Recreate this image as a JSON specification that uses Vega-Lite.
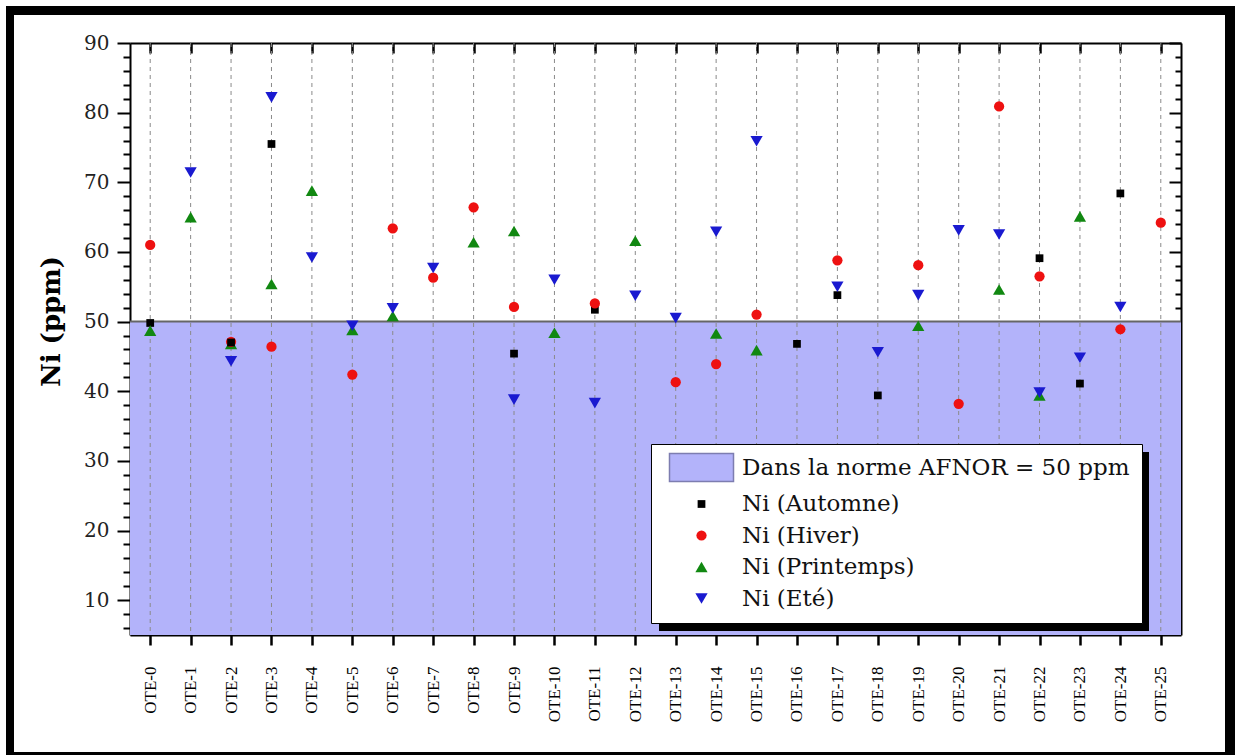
{
  "$schema": "https://vega.github.io/schema/vega-lite/v6.json",
  "width": 1051,
  "height": 592,
  "autosize": {"type": "none"},
  "padding": {"left": 130, "top": 43, "right": 56, "bottom": 120},
  "background": "white",
  "datasets": {
    "ni": [
      {"site": "OTE-0", "season": "Ni (Automne)", "ni": 49.8},
      {"site": "OTE-0", "season": "Ni (Hiver)", "ni": 61.0},
      {"site": "OTE-0", "season": "Ni (Printemps)", "ni": 48.7},
      {"site": "OTE-1", "season": "Ni (Printemps)", "ni": 65.0},
      {"site": "OTE-1", "season": "Ni (Eté)", "ni": 71.4},
      {"site": "OTE-2", "season": "Ni (Printemps)", "ni": 46.8},
      {"site": "OTE-2", "season": "Ni (Hiver)", "ni": 47.1},
      {"site": "OTE-2", "season": "Ni (Automne)", "ni": 47.0},
      {"site": "OTE-2", "season": "Ni (Eté)", "ni": 44.3},
      {"site": "OTE-3", "season": "Ni (Automne)", "ni": 75.5},
      {"site": "OTE-3", "season": "Ni (Hiver)", "ni": 46.4},
      {"site": "OTE-3", "season": "Ni (Printemps)", "ni": 55.4},
      {"site": "OTE-3", "season": "Ni (Eté)", "ni": 82.2},
      {"site": "OTE-4", "season": "Ni (Printemps)", "ni": 68.8},
      {"site": "OTE-4", "season": "Ni (Eté)", "ni": 59.2},
      {"site": "OTE-5", "season": "Ni (Hiver)", "ni": 42.4},
      {"site": "OTE-5", "season": "Ni (Printemps)", "ni": 48.8},
      {"site": "OTE-5", "season": "Ni (Eté)", "ni": 49.4},
      {"site": "OTE-6", "season": "Ni (Hiver)", "ni": 63.4},
      {"site": "OTE-6", "season": "Ni (Printemps)", "ni": 50.8},
      {"site": "OTE-6", "season": "Ni (Eté)", "ni": 51.9},
      {"site": "OTE-7", "season": "Ni (Hiver)", "ni": 56.3},
      {"site": "OTE-7", "season": "Ni (Eté)", "ni": 57.7},
      {"site": "OTE-8", "season": "Ni (Hiver)", "ni": 66.4},
      {"site": "OTE-8", "season": "Ni (Printemps)", "ni": 61.4},
      {"site": "OTE-9", "season": "Ni (Automne)", "ni": 45.4},
      {"site": "OTE-9", "season": "Ni (Hiver)", "ni": 52.1},
      {"site": "OTE-9", "season": "Ni (Printemps)", "ni": 63.0},
      {"site": "OTE-9", "season": "Ni (Eté)", "ni": 38.8},
      {"site": "OTE-10", "season": "Ni (Printemps)", "ni": 48.4},
      {"site": "OTE-10", "season": "Ni (Eté)", "ni": 56.0},
      {"site": "OTE-11", "season": "Ni (Automne)", "ni": 51.7},
      {"site": "OTE-11", "season": "Ni (Hiver)", "ni": 52.6},
      {"site": "OTE-11", "season": "Ni (Eté)", "ni": 38.3},
      {"site": "OTE-12", "season": "Ni (Printemps)", "ni": 61.6},
      {"site": "OTE-12", "season": "Ni (Eté)", "ni": 53.7},
      {"site": "OTE-13", "season": "Ni (Hiver)", "ni": 41.3},
      {"site": "OTE-13", "season": "Ni (Eté)", "ni": 50.5},
      {"site": "OTE-14", "season": "Ni (Hiver)", "ni": 43.9},
      {"site": "OTE-14", "season": "Ni (Printemps)", "ni": 48.3},
      {"site": "OTE-14", "season": "Ni (Eté)", "ni": 62.9},
      {"site": "OTE-15", "season": "Ni (Hiver)", "ni": 51.0},
      {"site": "OTE-15", "season": "Ni (Printemps)", "ni": 45.9},
      {"site": "OTE-15", "season": "Ni (Eté)", "ni": 75.9},
      {"site": "OTE-16", "season": "Ni (Automne)", "ni": 46.8},
      {"site": "OTE-17", "season": "Ni (Automne)", "ni": 53.8},
      {"site": "OTE-17", "season": "Ni (Hiver)", "ni": 58.8},
      {"site": "OTE-17", "season": "Ni (Eté)", "ni": 55.0},
      {"site": "OTE-18", "season": "Ni (Automne)", "ni": 39.4},
      {"site": "OTE-18", "season": "Ni (Eté)", "ni": 45.6},
      {"site": "OTE-19", "season": "Ni (Hiver)", "ni": 58.1},
      {"site": "OTE-19", "season": "Ni (Printemps)", "ni": 49.4},
      {"site": "OTE-19", "season": "Ni (Eté)", "ni": 53.8},
      {"site": "OTE-20", "season": "Ni (Hiver)", "ni": 38.2},
      {"site": "OTE-20", "season": "Ni (Eté)", "ni": 63.1},
      {"site": "OTE-21", "season": "Ni (Hiver)", "ni": 80.9},
      {"site": "OTE-21", "season": "Ni (Printemps)", "ni": 54.6},
      {"site": "OTE-21", "season": "Ni (Eté)", "ni": 62.5},
      {"site": "OTE-22", "season": "Ni (Automne)", "ni": 59.1},
      {"site": "OTE-22", "season": "Ni (Hiver)", "ni": 56.5},
      {"site": "OTE-22", "season": "Ni (Printemps)", "ni": 39.4},
      {"site": "OTE-22", "season": "Ni (Eté)", "ni": 39.8},
      {"site": "OTE-23", "season": "Ni (Automne)", "ni": 41.1},
      {"site": "OTE-23", "season": "Ni (Printemps)", "ni": 65.1},
      {"site": "OTE-23", "season": "Ni (Eté)", "ni": 44.8},
      {"site": "OTE-24", "season": "Ni (Automne)", "ni": 68.4},
      {"site": "OTE-24", "season": "Ni (Hiver)", "ni": 48.9},
      {"site": "OTE-24", "season": "Ni (Eté)", "ni": 52.1},
      {"site": "OTE-25", "season": "Ni (Hiver)", "ni": 64.2}
    ],
    "norm": [
      {"season": "Dans la norme AFNOR = 50 ppm", "lo": 5, "hi": 50}
    ]
  },
  "layer": [
    {
      "data": {"name": "norm"},
      "mark": {"type": "rect", "opacity": 1},
      "encoding": {
        "y": {
          "field": "lo", "type": "quantitative",
          "scale": {"domain": [5, 90], "nice": false, "zero": false},
          "axis": {
            "orient": "left",
            "values": [6, 8, 10, 12, 14, 16, 18, 20, 22, 24, 26, 28, 30, 32, 34, 36, 38, 40, 42, 44, 46, 48, 50, 52, 54, 56, 58, 60, 62, 64, 66, 68, 70, 72, 74, 76, 78, 80, 82, 84, 86, 88, 90],
            "labelExpr": "datum.value % 10 === 0 ? datum.label : ''",
            "labelOverlap": false,
            "labelFont": "DejaVu Serif", "labelFontSize": 20, "labelColor": "#222222",
            "labelPadding": 8,
            "tickSize": {"condition": {"test": "datum.value % 10 === 0", "value": 13}, "value": 7},
            "tickWidth": 2, "tickColor": "#000000",
            "domainColor": "#000000", "domainWidth": 2,
            "grid": false,
            "title": "Ni (ppm)",
            "titleFont": "DejaVu Serif", "titleFontSize": 26, "titleFontWeight": "bold", "titleColor": "#000000",
            "titlePadding": 19, "titleY": 278
          }
        },
        "y2": {"field": "hi"},
        "color": {
          "field": "season", "type": "nominal",
          "scale": {
            "domain": ["Dans la norme AFNOR = 50 ppm", "Ni (Automne)", "Ni (Hiver)", "Ni (Printemps)", "Ni (Eté)"],
            "range": ["#b3b3fa", "#000000", "#ee1111", "#118811", "#1a1ad0"]
          }
        }
      }
    },
    {
      "data": {"name": "ni"},
      "transform": [{"aggregate": [{"op": "count", "as": "n"}], "groupby": ["site"]}],
      "mark": {"type": "rule", "strokeDash": [4, 4], "color": "#8a8a8a", "strokeWidth": 1},
      "encoding": {
        "x": {
          "field": "site", "type": "nominal",
          "scale": {"type": "point", "padding": 0.5, "domain": ["OTE-0", "OTE-1", "OTE-2", "OTE-3", "OTE-4", "OTE-5", "OTE-6", "OTE-7", "OTE-8", "OTE-9", "OTE-10", "OTE-11", "OTE-12", "OTE-13", "OTE-14", "OTE-15", "OTE-16", "OTE-17", "OTE-18", "OTE-19", "OTE-20", "OTE-21", "OTE-22", "OTE-23", "OTE-24", "OTE-25"]},
          "axis": {
            "orient": "top", "labels": false, "title": null, "grid": false,
            "tickSize": -10, "tickWidth": 2.5, "tickColor": "#000000",
            "domainColor": "#000000", "domainWidth": 2
          }
        }
      }
    },
    {
      "data": {"name": "norm"},
      "mark": {"type": "rule", "color": "#666666", "strokeWidth": 2},
      "encoding": {
        "y": {"field": "hi", "type": "quantitative", "axis": null}
      }
    },
    {
      "data": {"name": "ni"},
      "mark": {"type": "point", "filled": true, "opacity": 1},
      "encoding": {
        "x": {
          "field": "site", "type": "nominal",
          "axis": {
            "orient": "bottom", "title": null, "grid": false,
            "labelAngle": 270, "labelFont": "Liberation Serif", "labelFontSize": 17, "labelColor": "#000000",
            "labelPadding": 21,
            "tickSize": 10, "tickWidth": 2.5, "tickColor": "#000000",
            "domainColor": "#000000", "domainWidth": 2
          }
        },
        "y": {
          "field": "ni", "type": "quantitative",
          "axis": {
            "orient": "right", "labels": false, "title": null, "grid": false,
            "values": [6, 8, 10, 12, 14, 16, 18, 20, 22, 24, 26, 28, 30, 32, 34, 36, 38, 40, 42, 44, 46, 48, 50, 52, 54, 56, 58, 60, 62, 64, 66, 68, 70, 72, 74, 76, 78, 80, 82, 84, 86, 88, 90],
            "tickSize": {"condition": {"test": "datum.value % 10 === 0", "value": -12}, "value": -6},
            "tickWidth": 2, "tickColor": "#000000",
            "domainColor": "#000000", "domainWidth": 2
          }
        },
        "color": {
          "field": "season", "type": "nominal",
          "legend": {
            "encode": {
              "symbols": {
                "update": {
                  "stroke": {"value": "#7d7db0"},
                  "strokeWidth": {"signal": "datum.value === 'Dans la norme AFNOR = 50 ppm' ? 1.5 : 0"}
                }
              }
            }
          }
        },
        "shape": {
          "field": "season", "type": "nominal",
          "scale": {
            "domain": ["Dans la norme AFNOR = 50 ppm", "Ni (Automne)", "Ni (Hiver)", "Ni (Printemps)", "Ni (Eté)"],
            "range": ["M-8,-3.5H8V3.5H-8Z", "square", "circle", "triangle-up", "triangle-down"]
          }
        },
        "size": {
          "field": "season", "type": "ordinal",
          "scale": {
            "type": "ordinal",
            "domain": ["Dans la norme AFNOR = 50 ppm", "Ni (Automne)", "Ni (Hiver)", "Ni (Printemps)", "Ni (Eté)"],
            "range": [64, 60, 105, 150, 150]
          },
          "legend": null
        },
        "strokeDash": {
          "field": "season", "type": "nominal",
          "scale": {
            "domain": ["Ni (Eté)", "Ni (Printemps)", "Ni (Hiver)", "Ni (Automne)", "Dans la norme AFNOR = 50 ppm"],
            "range": [[1, 0], [1, 0], [1, 0], [1, 0], [1, 0]]
          },
          "legend": {
            "orient": "none", "legendX": -130, "legendY": -43, "title": null,
            "values": ["Ni (Eté)"],
            "fillColor": "transparent", "strokeColor": "transparent", "padding": 0,
            "labelExpr": "''", "labelFontSize": 2, "labelOffset": 0,
            "symbolSize": 4, "symbolOffset": 0,
            "symbolType": "M5,5H1234V759H5ZM13,14V751H1224V14ZM658,451H1148V630H658Z",
            "symbolFillColor": "#000000", "symbolStrokeWidth": 0,
            "encode": {
              "symbols": {
                "update": {
                  "fill": {"value": "#000000"},
                  "stroke": {"value": "transparent"},
                  "strokeWidth": {"value": 0},
                  "opacity": {"value": 1}
                }
              }
            },
            "zindex": 0
          }
        }
      }
    }
  ],
  "resolve": {"axis": {"x": "independent", "y": "independent"}},
  "config": {
    "view": {"stroke": null},
    "legend": {
      "orient": "none", "legendX": 521, "legendY": 401, "title": null,
      "fillColor": "#ffffff", "strokeColor": "#000000",
      "padding": 12, "symbolSize": 64, "symbolOffset": 27, "labelOffset": 29,
      "labelFont": "DejaVu Serif", "labelFontSize": 23, "labelColor": "#111111",
      "labelLimit": 600, "rowPadding": 7.5, "symbolOpacity": 1, "symbolStrokeWidth": 0,
      "zindex": 1
    }
  }
}
